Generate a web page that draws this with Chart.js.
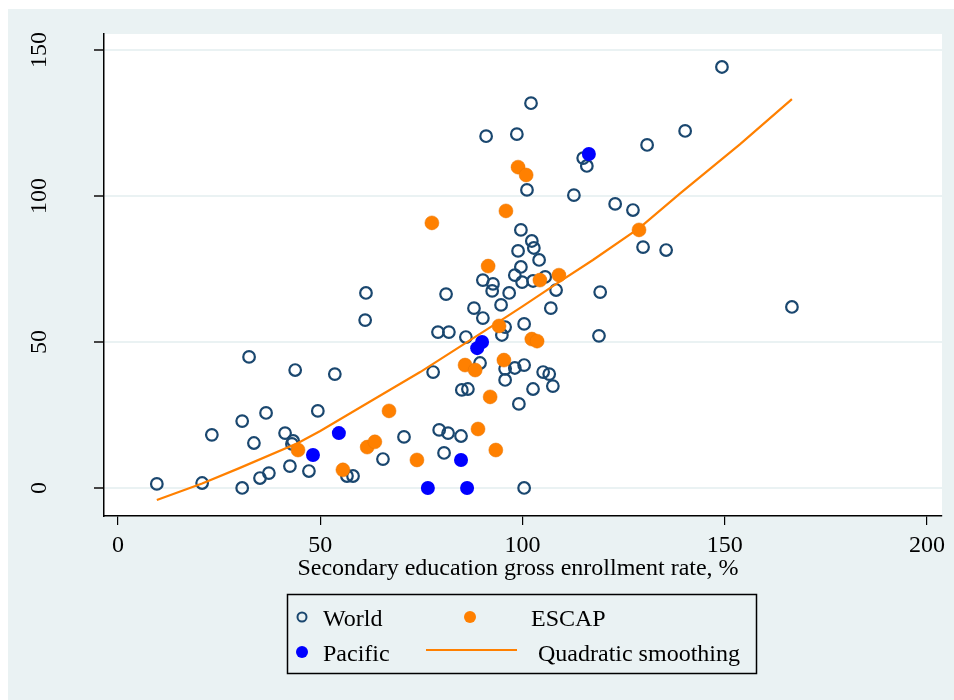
<!DOCTYPE html>
<html>
<head>
    <title>Secondary enrollment scatter</title>
    <script src="https://cdn.jsdelivr.net/npm/chart.js"></script>
    <style>
        body { margin: 0; background: #fff; }
    </style>
</head>
<body>
    <canvas id="myChart" width="954" height="700"></canvas>

    <script>
        // data
        const worldX = [9.6, 20.8, 23.2, 30.7, 30.7, 32.4, 33.6, 35.1, 37.3, 36.6, 41.3, 42.5, 43.3, 43.0, 43.8, 47.2, 49.4, 53.6, 56.6, 58.1,
            61.3, 61.1, 65.5, 70.7, 77.9, 79.1, 79.4, 80.6, 81.1, 81.6, 81.8, 84.8, 85.0, 86.0, 86.5, 88.0, 89.5, 90.2, 90.2, 91.0,
            92.5, 92.7, 94.7, 94.9, 95.7, 95.7, 95.7, 96.7, 98.1, 98.1, 98.6, 98.9, 99.1, 99.6, 99.6, 99.9, 100.4, 100.4, 100.4, 101.1,
            102.1, 102.3, 102.6, 102.6, 102.8, 104.1, 105.1, 105.6, 106.6, 107.0, 107.5, 108.3, 112.7, 115.0, 115.9, 118.9, 119.2, 122.9, 127.3, 129.8,
            130.8, 135.5, 140.2, 149.3, 166.6];
        const worldY = [1.4, 1.7, 18.2, 0, 22.9, 44.9, 15.4, 3.4, 5.1, 25.7, 18.8, 7.5, 16.1, 15.1, 40.4, 5.8, 26.4, 39.0, 4.1, 4.1,
            66.8, 57.5, 9.9, 17.5, 39.7, 53.4, 19.9, 12.0, 66.4, 18.8, 53.4, 17.8, 33.6, 51.7, 33.9, 61.6, 42.8, 71.2, 58.2, 120.5,
            67.5, 69.9, 62.7, 52.4, 55.1, 40.8, 37.0, 66.8, 72.9, 41.1, 121.2, 81.2, 28.8, 88.4, 75.7, 70.5, 56.2, 42.1, 0, 102.1,
            131.8, 84.6, 70.9, 33.9, 82.2, 78.1, 39.7, 72.3, 39.0, 61.6, 34.9, 67.8, 100.3, 113.0, 110.3, 52.1, 67.1, 97.3, 95.2, 82.5,
            117.5, 81.5, 122.3, 144.2, 62.0];

        const escapX = [44.5, 55.6, 61.6, 63.5, 67.0, 73.9, 77.6, 85.8, 88.3, 89.0, 91.5, 92.0, 93.4, 94.2, 95.4, 95.9, 98.9, 100.9, 102.3, 103.6, 104.3, 109.0, 128.8];
        const escapY = [13.0, 6.2, 14.0, 15.8, 26.4, 9.6, 90.8, 42.1, 40.4, 20.2, 76.0, 31.2, 13.0, 55.5, 43.8, 94.9, 109.9, 107.2, 51.0, 50.3, 71.2, 72.9, 88.4];

        const pacificX = [48.2, 54.6, 76.6, 84.8, 86.3, 88.8, 90.0, 116.4];
        const pacificY = [11.3, 18.8, 0, 9.6, 0, 47.9, 50.0, 114.4];

        const fitX = [9.6, 20.8, 30, 44.5, 50, 61.6, 74.7, 94.2, 100, 109, 117.4, 129, 138.9, 153.8, 166.6];
        const fitY = [-4.1, 1.5, 6.8, 15.4, 19.5, 29.0, 39.7, 57.0, 62.2, 70.5, 78.1, 89.2, 100.8, 117.8, 133.2];

        const xTicks = [0, 50, 100, 150, 200];
        const yTicks = [0, 50, 100, 150];
        const xTitle = 'Secondary education gross enrollment rate, %';

        const toPoints = (xs, ys) => xs.map((x, i) => ({ x: x, y: ys[i] }));

        const FONT = "'Liberation Serif', 'Times New Roman', serif";
        const BG = '#eaf2f3';
        const NAVY = '#1a476f';
        const ORANGE = '#ff8000';
        const BLUE = '#0000ff';

        // Stata-like frame, rotated y labels, axis title and boxed legend
        const stataLook = {
            id: 'stataLook',
            beforeDraw(chart) {
                const ctx = chart.ctx;
                const a = chart.chartArea;
                ctx.save();
                ctx.fillStyle = '#fff';
                ctx.fillRect(0, 0, chart.width, chart.height);
                ctx.fillStyle = BG;
                ctx.fillRect(8, 9, chart.width - 8, chart.height - 9);
                ctx.fillStyle = '#fff';
                ctx.fillRect(a.left, a.top, a.right - a.left, a.bottom - a.top);
                ctx.restore();
            },
            afterDraw(chart) {
                const ctx = chart.ctx;
                const ys = chart.scales.y;
                ctx.save();
                ctx.fillStyle = '#000';
                ctx.font = '24px ' + FONT;

                // y tick labels, reading bottom to top
                yTicks.forEach(v => {
                    ctx.save();
                    ctx.translate(46, ys.getPixelForValue(v));
                    ctx.rotate(-Math.PI / 2);
                    ctx.textAlign = 'center';
                    ctx.textBaseline = 'alphabetic';
                    ctx.fillText(String(v), 0, 0);
                    ctx.restore();
                });

                // x axis title
                ctx.textAlign = 'center';
                ctx.textBaseline = 'alphabetic';
                ctx.fillText(xTitle, 518, 575);

                // legend box
                ctx.strokeStyle = '#000';
                ctx.lineWidth = 1.5;
                ctx.strokeRect(287.5, 594.5, 469, 79);

                const slots = [
                    { mx: 302, my: 617, tx: 323, ty: 626 },
                    { mx: 470, my: 617, tx: 531, ty: 626 },
                    { mx: 302, my: 652, tx: 323, ty: 661 },
                    { mx: 471, my: 650, tx: 538, ty: 661 }
                ];
                chart.data.datasets.forEach((ds, i) => {
                    const s = slots[i];
                    const hollow = ds.pointBackgroundColor === 'transparent';
                    if (ds.showLine) {
                        ctx.beginPath();
                        ctx.moveTo(426, s.my);
                        ctx.lineTo(517, s.my);
                        ctx.strokeStyle = ds.borderColor;
                        ctx.lineWidth = 2;
                        ctx.stroke();
                    } else {
                        ctx.beginPath();
                        ctx.arc(s.mx, s.my, hollow ? 4.5 : 6, 0, Math.PI * 2);
                        if (hollow) {
                            ctx.strokeStyle = ds.pointBorderColor;
                            ctx.lineWidth = 2;
                            ctx.stroke();
                        } else {
                            ctx.fillStyle = ds.pointBackgroundColor;
                            ctx.fill();
                        }
                    }
                    ctx.fillStyle = '#000';
                    ctx.textAlign = 'left';
                    ctx.fillText(ds.label, s.tx, s.ty);
                });
                ctx.restore();
            }
        };

        const ctx = document.getElementById('myChart').getContext('2d');
        new Chart(ctx, {
            type: 'scatter',
            data: {
                datasets: [
                    {
                        label: 'World',
                        data: toPoints(worldX, worldY),
                        pointStyle: 'circle',
                        pointRadius: 5.8,
                        pointBorderWidth: 2.2,
                        pointBackgroundColor: 'transparent',
                        pointBorderColor: NAVY,
                        order: 3
                    },
                    {
                        label: 'ESCAP',
                        data: toPoints(escapX, escapY),
                        pointRadius: 7,
                        pointBorderWidth: 0.5,
                        pointBackgroundColor: ORANGE,
                        pointBorderColor: '#e87400',
                        order: 2
                    },
                    {
                        label: 'Pacific',
                        data: toPoints(pacificX, pacificY),
                        pointRadius: 7,
                        pointBorderWidth: 0,
                        pointBackgroundColor: BLUE,
                        pointBorderColor: BLUE,
                        order: 1
                    },
                    {
                        label: 'Quadratic smoothing',
                        type: 'line',
                        data: toPoints(fitX, fitY),
                        showLine: true,
                        borderColor: ORANGE,
                        borderWidth: 2.2,
                        pointRadius: 0,
                        tension: 0,
                        fill: false,
                        order: 0
                    }
                ]
            },
            options: {
                responsive: false,
                devicePixelRatio: 1,
                animation: false,
                layout: { padding: { left: 0, top: 34, right: 12, bottom: 0 } },
                plugins: {
                    legend: { display: false },
                    tooltip: { enabled: false }
                },
                scales: {
                    x: {
                        type: 'linear',
                        min: -3.46,
                        max: 203.7,
                        afterBuildTicks: s => { s.ticks = xTicks.map(v => ({ value: v })); },
                        afterFit: s => { s.height = 184; },
                        border: { display: true, color: '#000', width: 1.5 },
                        grid: { drawOnChartArea: false, drawTicks: true, tickLength: 9, tickColor: '#000', lineWidth: 1.2 },
                        ticks: {
                            color: '#000',
                            font: { family: FONT, size: 24 },
                            padding: 6,
                            maxRotation: 0,
                            autoSkip: false
                        }
                    },
                    y: {
                        type: 'linear',
                        min: -9.6,
                        max: 155.5,
                        afterBuildTicks: s => { s.ticks = yTicks.map(v => ({ value: v })); },
                        afterFit: s => { s.width = 104; },
                        border: { display: true, color: '#000', width: 1.5 },
                        grid: { color: BG, lineWidth: 2, drawTicks: true, tickLength: 10, tickColor: '#444' },
                        ticks: { display: false }
                    }
                }
            },
            plugins: [stataLook]
        });
    </script>
</body>
</html>
